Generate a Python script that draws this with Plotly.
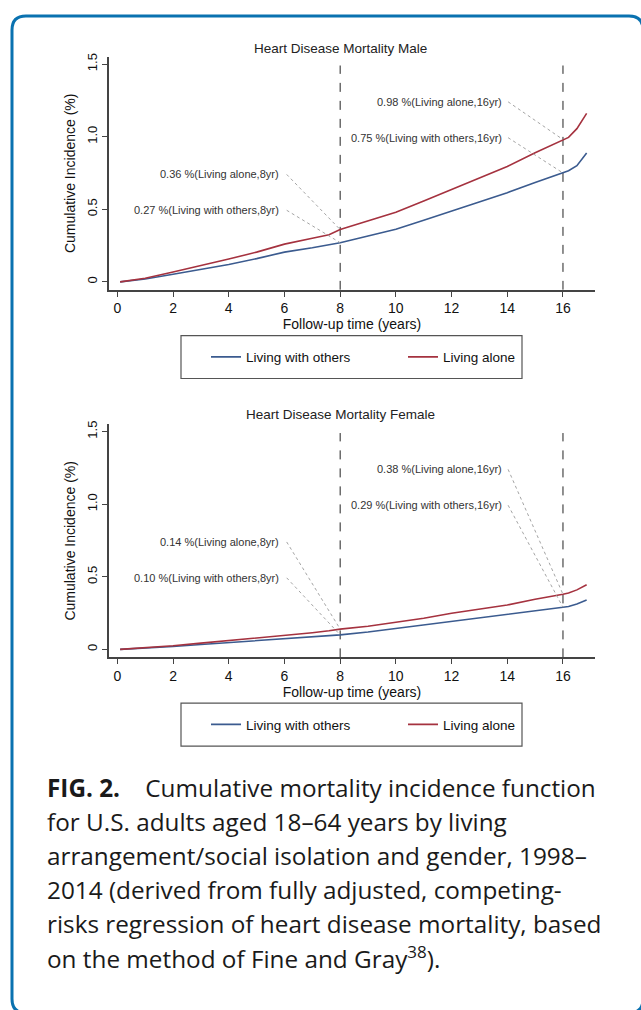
import plotly.graph_objects as go

# ---------------- data ----------------
TIME = [0.1, 1, 2, 3, 4, 5, 6, 7, 7.6, 8, 9, 10, 11, 12, 13, 14, 15, 15.5, 16, 16.2, 16.5, 16.85]

male_others = [0.0, 0.02, 0.052, 0.085, 0.12, 0.16, 0.205, 0.235, 0.255, 0.27, 0.316, 0.362, 0.424,
               0.487, 0.55, 0.614, 0.684, 0.718, 0.75, 0.765, 0.80, 0.888]
male_alone = [0.0, 0.025, 0.068, 0.11, 0.157, 0.205, 0.26, 0.30, 0.325, 0.36, 0.42, 0.48, 0.557,
              0.635, 0.711, 0.794, 0.889, 0.935, 0.98, 0.995, 1.055, 1.16]
female_others = [0.0, 0.008, 0.02, 0.034, 0.048, 0.061, 0.075, 0.088, 0.095, 0.10, 0.12, 0.144, 0.167,
                 0.19, 0.214, 0.238, 0.262, 0.275, 0.29, 0.296, 0.312, 0.34]
female_alone = [0.0, 0.01, 0.025, 0.043, 0.06, 0.077, 0.094, 0.115, 0.128, 0.14, 0.16, 0.185, 0.215,
                0.249, 0.277, 0.306, 0.345, 0.36, 0.38, 0.388, 0.41, 0.445]

MILESTONES = [8, 16]
SERIES_NAMES = ["Living with others", "Living alone"]
X_TICKS = [0, 2, 4, 6, 8, 10, 12, 14, 16]
Y_TICKS = [0, 0.5, 1.0, 1.5]
Y_TICK_TEXT = ["0", "0.5", "1.0", "1.5"]
PANEL_TITLES = ["Heart Disease Mortality Male", "Heart Disease Mortality Female"]

# callout values: (year, value, label)
male_callouts = [(8, 0.36, "0.36 %(Living alone,8yr)"),
                 (8, 0.27, "0.27 %(Living with others,8yr)"),
                 (16, 0.98, "0.98 %(Living alone,16yr)"),
                 (16, 0.75, "0.75 %(Living with others,16yr)")]
female_callouts = [(8, 0.14, "0.14 %(Living alone,8yr)"),
                   (8, 0.10, "0.10 %(Living with others,8yr)"),
                   (16, 0.38, "0.38 %(Living alone,16yr)"),
                   (16, 0.29, "0.29 %(Living with others,16yr)")]

CAPTION_LINES = [
    "<b>FIG. 2.</b>\u00a0\u00a0\u00a0 Cumulative mortality incidence function",
    "for U.S. adults aged 18\u201364 years by living",
    "arrangement/social isolation and gender, 1998\u2013",
    "2014 (derived from fully adjusted, competing-",
    "risks regression of heart disease mortality, based",
    "on the method of Fine and Gray<sup>38</sup>).",
]

# ---------------- layout helpers ----------------
W, H = 641, 1010
def px(x):
    return x / W
def py(y):
    return 1 - y / H

BLUE = "#3b5b8f"
RED = "#a5323f"
AX = "#444444"
FONT = "Liberation Sans, Arial, sans-serif"

# label anchor positions (data coords of right end of label text)
LABEL_POS = {(8, 0): (5.88, 0.74), (8, 1): (5.88, 0.493),
             (16, 0): (13.88, 1.24), (16, 1): (13.88, 0.993)}
LABEL_GAP = {8: 0.2, 16: 0.15}

fig = go.Figure()

panels = [
    dict(xa="x", ya="y", others=male_others, alone=male_alone, callouts=male_callouts,
         legend="legend", title=PANEL_TITLES[0], title_y=45, leg_top=333),
    dict(xa="x2", ya="y2", others=female_others, alone=female_alone, callouts=female_callouts,
         legend="legend2", title=PANEL_TITLES[1], title_y=412, leg_top=702),
]

annotations = []
shapes = []
for p in panels:
    for name, vals, col in [(SERIES_NAMES[0], p["others"], BLUE), (SERIES_NAMES[1], p["alone"], RED)]:
        fig.add_trace(go.Scatter(x=TIME, y=vals, mode="lines", name=name,
                                 line=dict(color=col, width=1.6),
                                 xaxis=p["xa"], yaxis=p["ya"], legend=p["legend"]))
    for m in MILESTONES:
        shapes.append(dict(type="line", xref=p["xa"], yref=p["ya"], x0=m, x1=m, y0=-0.055, y1=1.49,
                           line=dict(color="#222222", width=1, dash="dash"), layer="below"))
    for i, (yr, val, lab) in enumerate(p["callouts"]):
        lx, ly = LABEL_POS[(yr, i % 2)]
        fig.add_trace(go.Scatter(x=[lx + LABEL_GAP[yr], yr], y=[ly, val], mode="lines",
                                 line=dict(color="#9a9a9a", width=0.9, dash="dot"),
                                 showlegend=False, hoverinfo="skip",
                                 xaxis=p["xa"], yaxis=p["ya"]))
        annotations.append(dict(x=lx, y=ly, xref=p["xa"], yref=p["ya"], text=lab, showarrow=False,
                                xanchor="right", yanchor="middle",
                                font=dict(family=FONT, size=11, color="#333333")))
    annotations.append(dict(x=px(340), y=py(p["title_y"]), xref="paper", yref="paper", text=p["title"],
                            showarrow=False, xanchor="center", yanchor="middle",
                            font=dict(family=FONT, size=13.5, color="#222222")))
    # legend frame
    lt = p["leg_top"]
    shapes.append(dict(type="rect", xref="paper", yref="paper", x0=px(181), x1=px(522),
                       y0=py(lt + 43), y1=py(lt), line=dict(color="#555555", width=1.2),
                       fillcolor="rgba(0,0,0,0)"))

# caption
cap_y = [787, 821, 855, 889, 923, 957]
for t, yy in zip(CAPTION_LINES, cap_y):
    annotations.append(dict(x=px(45), y=py(yy), xref="paper", yref="paper", text=t, showarrow=False,
                            xanchor="left", yanchor="middle",
                            font=dict(family="Open Sans, sans-serif", size=24.3, color="#1a1a1a")))

# rounded border
def border_path(l, t, r, b, rad):
    pts = [("M", [(l, b - rad)]), ("L", [(l, t + rad)]), ("Q", [(l, t), (l + rad, t)]),
           ("L", [(r - rad, t)]), ("Q", [(r, t), (r, t + rad)]), ("L", [(r, b - rad)]),
           ("Q", [(r, b), (r - rad, b)]), ("L", [(l + rad, b)]), ("Q", [(l, b), (l, b - rad)])]
    s = ""
    for cmd, cs in pts:
        s += cmd + " ".join(f"{px(x):.5f},{py(y):.5f}" for x, y in cs) + " "
    return s + "Z"

shapes.append(dict(type="path", xref="paper", yref="paper", path=border_path(12, 12, 643, 1013, 14),
                   line=dict(color="#0a72b0", width=3)))

def xaxis_cfg(anchor):
    return dict(domain=[px(109), px(595)], anchor=anchor, range=[-0.3, 17.15],
                tickvals=X_TICKS, ticks="outside", ticklen=5, tickwidth=1.2, tickcolor=AX,
                showline=True, linecolor=AX, linewidth=1.5, showgrid=False, zeroline=False,
                tickfont=dict(family=FONT, size=14, color="#111111"),
                title=dict(text="Follow-up time (years)", standoff=0,
                           font=dict(family=FONT, size=14, color="#111111")))

def yaxis_cfg(anchor, top, bottom):
    return dict(domain=[py(bottom), py(top)], anchor=anchor, range=[-0.055, 1.55],
                tickvals=Y_TICKS, ticktext=Y_TICK_TEXT, tickangle=-90,
                ticks="outside", ticklen=5, tickwidth=1.2, tickcolor=AX,
                showline=True, linecolor=AX, linewidth=1.5, showgrid=False, zeroline=False,
                tickfont=dict(family=FONT, size=13, color="#111111"),
                title=dict(text="Cumulative Incidence (%)", standoff=6,
                           font=dict(family=FONT, size=14, color="#111111")))

def legend_cfg(top):
    return dict(orientation="h", x=px(206), xanchor="left", y=py(top + 21.5), yanchor="middle",
                borderwidth=0, bgcolor="rgba(0,0,0,0)",
                font=dict(family=FONT, size=13.5, color="#111111"), entrywidth=152)

fig.update_layout(
    width=W, height=H, margin=dict(l=0, r=0, t=0, b=0),
    paper_bgcolor="white", plot_bgcolor="white",
    xaxis=xaxis_cfg("y"), yaxis=yaxis_cfg("x", 53, 287),
    xaxis2=xaxis_cfg("y2"), yaxis2=yaxis_cfg("x2", 422, 656),
    legend=legend_cfg(333), legend2=legend_cfg(702),
    annotations=annotations, shapes=shapes, showlegend=True,
)

fig.write_html("out.html", config={"displayModeBar": False},
               post_script="document.body.style.margin='0';document.body.style.overflow='hidden';")
